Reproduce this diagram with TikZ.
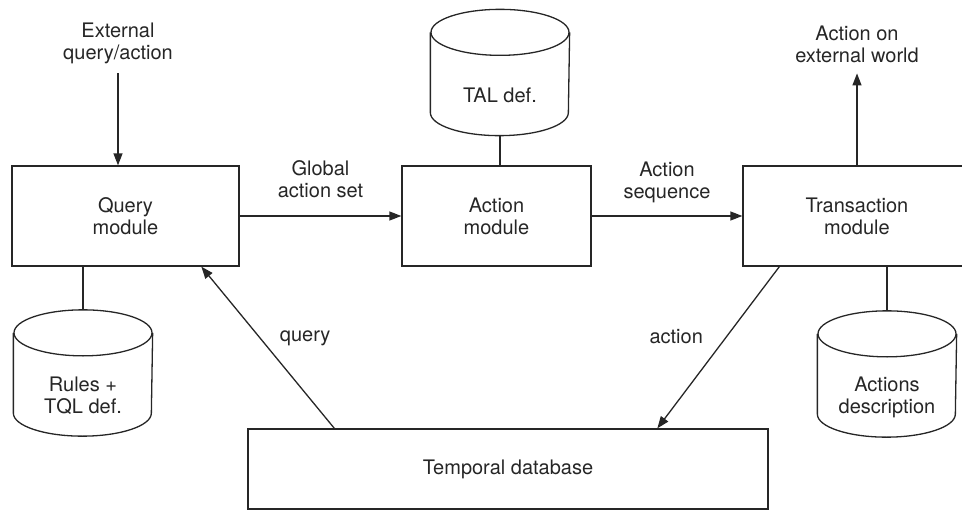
\documentclass[tikz,border=0pt]{standalone}
\usepackage{fontspec}
\setmainfont{TeX Gyre Heros}
\usetikzlibrary{arrows.meta}

\tikzset{
  module/.style={draw, rectangle, minimum height=100pt, align=center},
  store/.style={rectangle, minimum width=138pt, minimum height=79pt, align=center},
  flow/.style={-{Triangle[length=12pt, width=9pt]}},
  caption/.style={align=center}
}

\begin{document}
\begin{tikzpicture}[x=1pt, y=-1pt, line width=1.3pt, color=black!85,
    font=\fontsize{20}{22}\selectfont]
    \useasboundingbox (0,0) rectangle (962,511);
    \clip (0,0) rectangle (962,511);

    % Modules
    \node[module, minimum width=227pt] (query) at (125.5,216) {Query\\module};
    \node[module, minimum width=189pt] (action) at (496.5,216) {Action\\module};
    \node[module, minimum width=228pt] (trans) at (857,216) {Transaction\\module};
    \node[module, minimum width=520pt, minimum height=80pt] (tdb) at (508,469) {Temporal database};

    % Definition stores (body only, the lid is drawn below)
    \node[store] (tal) at (500,95.5) {TAL def.};
    \node[store] (rules) at (83,396) {Rules +\\TQL def.};
    \node[store] (adesc) at (887,397) {Actions\\description};

    \foreach \s in {tal, rules, adesc} {
        \draw ([yshift=23pt]\s.north west) -- ([yshift=23pt]\s.south west)
            arc[start angle=180, end angle=360, x radius=69pt, y radius=23pt]
            -- ([yshift=23pt]\s.north east);
        \draw ([yshift=23pt]\s.north) ellipse [x radius=69pt, y radius=23pt];
        \coordinate (\s-top) at ([yshift=46pt]\s.north);
    }

    % Outside world
    \node[caption] (ext) at (118,43) {External\\query/action};
    \node[caption] (world) at (857,44) {Action on\\external world};

    % Flows
    \draw[flow, shorten <=6pt] (ext.south) -- (ext.south |- query.north);
    \draw[flow, shorten >=7pt] (trans.north) -- (trans.north |- world.south);
    \draw[flow] (query) -- node[caption, above=14pt] (gas) {Global\\action set} (action);
    \draw[flow] (action) -- node[caption, above=9pt] (aseq) {Action\\sequence} (trans);
    \draw (tal.south) -- (tal.south |- action.north);
    \draw (rules-top) -- (rules-top |- query.south);
    \draw (adesc-top) -- (adesc-top |- trans.south);
    \draw[flow] ([xshift=87pt]tdb.north west) -- node[caption, pos=0.56, right=16pt] (qlbl) {query} ([xshift=190pt]query.south west);
    \draw[flow] ([xshift=37pt]trans.south west) -- node[caption, pos=0.43, left=20pt] (albl) {action} ([xshift=410pt]tdb.north west);
\end{tikzpicture}
\end{document}
